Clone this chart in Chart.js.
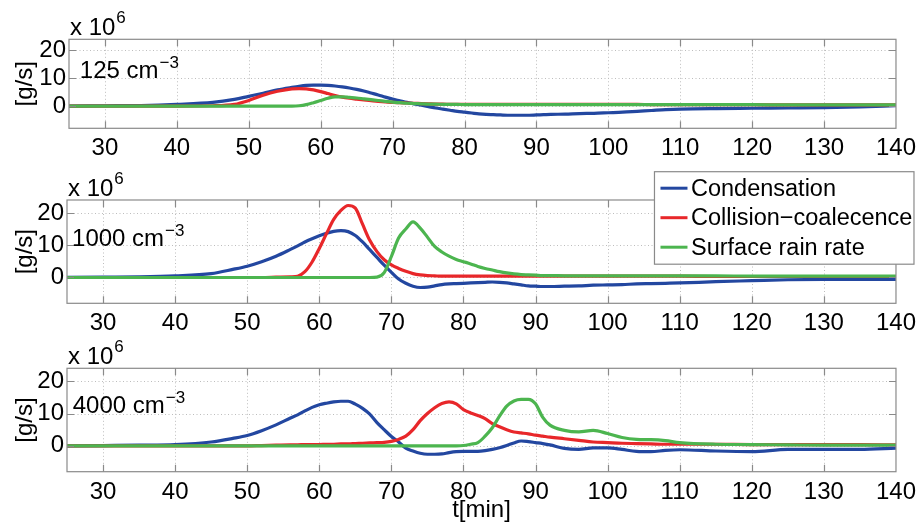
<!DOCTYPE html>
<html>
<head>
<meta charset="utf-8">
<script src="https://cdn.jsdelivr.net/npm/chart.js@4.4.0/dist/chart.umd.min.js"></script>
<style>
html, body { margin: 0; padding: 0; background: #fff; }
#wrap { position: relative; width: 922px; height: 522px; }
canvas { position: absolute; left: 0; }
</style>
</head>
<body>
<div id="wrap">
<canvas id="panel125" width="922" height="170" style="top:0px"></canvas>
<canvas id="panel1000" width="922" height="185" style="top:160px"></canvas>
<canvas id="panel4000" width="922" height="187" style="top:335px"></canvas>
</div>
<script>
var timeMinutes = [25, 30, 35, 40, 45, 48, 50, 52, 54, 56,
    57, 58, 59, 60, 61, 62, 63, 64, 65, 66, 67, 68, 69, 70, 71, 72, 73, 74, 75, 76,
    77, 78, 79, 80, 81, 82, 83, 84, 85, 86, 87, 88, 89, 90, 91, 92,
    94, 96, 98, 100, 102, 104, 106, 108, 110,
    115, 120, 125, 130, 135, 140];

var xTicks = [30, 40, 50, 60, 70, 80, 90, 100, 110, 120, 130, 140];
var yTicks = [0, 10, 20];
var seriesLabels = ['Condensation', 'Collision\u2212coalecence', 'Surface rain rate'];
var concentrationLabels = ['125', '1000', '4000'];

// values in 10^6 g/s
var condensation125 = [0, 0.1, 0.2, 0.6, 1.3, 2.4, 3.5, 4.6, 5.8, 6.7,
    7.1, 7.4, 7.5, 7.5, 7.4, 7.2, 6.9, 6.5, 6.0, 5.4, 4.7, 4.0, 3.2, 2.5, 1.9, 1.3, 0.8, 0.3, -0.2, -0.7,
    -1.1, -1.5, -1.9, -2.2, -2.5, -2.8, -3.0, -3.1, -3.2, -3.3, -3.3, -3.3, -3.3, -3.2, -3.1, -3.0,
    -2.9, -2.7, -2.6, -2.4, -2.2, -1.9, -1.6, -1.3, -1.1,
    -0.9, -0.8, -0.7, -0.6, -0.3, 0.1];
var collision125 = [0, 0, 0, 0, 0.1, 0.6, 2.0, 3.9, 5.3, 6.2,
    6.3, 6.2, 5.8, 5.2, 4.5, 3.8, 3.2, 2.8, 2.5, 2.2, 1.9, 1.7, 1.5, 1.3, 1.2, 1.1, 1.0, 0.9, 0.8, 0.7,
    0.7, 0.6, 0.6, 0.6, 0.6, 0.6, 0.6, 0.6, 0.6, 0.6, 0.6, 0.6, 0.6, 0.6, 0.6, 0.6,
    0.6, 0.6, 0.6, 0.6, 0.6, 0.6, 0.5, 0.5, 0.5,
    0.5, 0.5, 0.4, 0.4, 0.4, 0.4];
var rainRate125 = [0, 0, 0, 0, 0, 0, 0, 0, 0, 0,
    0.1, 0.5, 1.2, 2.0, 2.8, 3.3, 3.3, 3.1, 2.9, 2.6, 2.3, 2.0, 1.7, 1.4, 1.2, 1.0, 0.9, 0.8, 0.7, 0.7,
    0.6, 0.6, 0.6, 0.5, 0.5, 0.5, 0.5, 0.5, 0.5, 0.5, 0.5, 0.5, 0.5, 0.5, 0.5, 0.5,
    0.5, 0.5, 0.5, 0.5, 0.5, 0.5, 0.5, 0.5, 0.5,
    0.5, 0.5, 0.4, 0.4, 0.4, 0.4];

var condensation1000 = [0, 0.1, 0.2, 0.5, 1.2, 2.5, 3.5, 4.9, 6.6, 8.7,
    9.8, 11.0, 12.0, 12.9, 13.7, 14.3, 14.5, 14.2, 13.0, 11.0, 8.6, 6.2, 3.8, 1.6, -0.5, -1.8, -2.7, -3.1, -3.0, -2.6,
    -2.2, -2.0, -1.9, -1.8, -1.7, -1.6, -1.5, -1.4, -1.5, -1.7, -2.0, -2.3, -2.6, -2.7, -2.8, -2.8,
    -2.7, -2.6, -2.4, -2.3, -2.2, -2.0, -1.9, -1.8, -1.7,
    -1.3, -1.0, -0.7, -0.6, -0.6, -0.6];
var collision1000 = [0, 0, 0, 0, 0, 0, 0, 0, 0.1, 0.2,
    0.4, 1.8, 4.8, 9.0, 13.6, 18.0, 20.8, 22.3, 21.5, 16.5, 11.5, 8.0, 5.5, 3.9, 2.8, 1.9, 1.2, 0.8, 0.6, 0.5,
    0.4, 0.4, 0.4, 0.4, 0.4, 0.4, 0.4, 0.4, 0.4, 0.4, 0.4, 0.4, 0.4, 0.4, 0.4, 0.4,
    0.4, 0.4, 0.4, 0.4, 0.4, 0.4, 0.4, 0.4, 0.4,
    0.3, 0.3, 0.3, 0.3, 0.3, 0.3];
var rainRate1000 = [0, 0, 0, 0, 0, 0, 0, 0, 0, 0,
    0, 0, 0, 0, 0, 0, 0, 0, 0, 0, 0, 0.1, 1.5, 6.5, 12.2, 15.0, 17.2, 15.3, 12.5, 9.6,
    7.9, 6.6, 5.6, 4.9, 4.2, 3.4, 2.8, 2.3, 1.8, 1.4, 1.1, 0.9, 0.8, 0.7, 0.6, 0.6,
    0.5, 0.5, 0.5, 0.5, 0.5, 0.5, 0.5, 0.5, 0.5,
    0.5, 0.4, 0.4, 0.4, 0.4, 0.4];

var condensation4000 = [0, 0.1, 0.2, 0.4, 1.2, 2.3, 3.2, 4.7, 6.5, 8.6,
    9.6, 10.8, 11.9, 12.7, 13.2, 13.6, 13.8, 13.8, 12.9, 11.6, 9.8, 7.2, 5.0, 2.9, 1.2, -0.7, -1.6, -2.3, -2.6, -2.6,
    -2.5, -2.1, -1.8, -1.7, -1.7, -1.7, -1.5, -1.1, -0.6, 0.1, 0.9, 1.5, 1.3, 1.0, 0.7, 0.3,
    -0.8, -1.1, -0.6, -0.6, -1.1, -1.7, -1.8, -1.4, -1.2,
    -1.6, -1.8, -1.1, -1.1, -1.1, -0.7];
var collision4000 = [0, 0, 0, 0, 0, 0, 0, 0.1, 0.2, 0.3,
    0.3, 0.4, 0.4, 0.4, 0.5, 0.5, 0.6, 0.6, 0.7, 0.8, 0.9, 1.0, 1.1, 1.4, 2.0, 3.0, 5.0, 7.8, 10.0, 11.8,
    13.1, 13.6, 13.0, 11.2, 10.2, 9.4, 8.4, 6.9, 5.9, 5.0, 4.3, 4.0, 3.7, 3.3, 3.0, 2.7,
    2.2, 1.7, 1.2, 1.0, 0.8, 0.7, 0.6, 0.5, 0.5,
    0.5, 0.4, 0.4, 0.4, 0.4, 0.3];
var rainRate4000 = [0, 0, 0, 0, 0, 0, 0, 0, 0, 0,
    0, 0, 0, 0, 0, 0, 0, 0, 0, 0, 0, 0, 0, 0, 0, 0, 0, 0, 0, 0,
    0, 0, 0, 0.1, 0.5, 1.0, 3.0, 5.6, 9.2, 12.3, 13.9, 14.4, 14.4, 13.0, 8.8, 6.4,
    4.8, 4.3, 4.8, 3.8, 2.6, 2.0, 1.9, 1.6, 1.0,
    0.5, 0.4, 0.3, 0.2, 0.2, 0.2];

var FONT = '"Liberation Sans", Arial, Helvetica, sans-serif';
var COLORS = ['#2347a0', '#e8272a', '#4cb54f'];

var RainRates = {

    panels : [
        { id: 'panel125', series: [condensation125, collision125, rainRate125], text: concentrationLabels[0],
          top: 39.3, left: 69, right: 21.3, axisHeight: 41.7, textAt: [26.5, 10.2], legend: false, xTitle: false },
        { id: 'panel1000', series: [condensation1000, collision1000, rainRate1000], text: concentrationLabels[1],
          top: 40, left: 67, right: 24, axisHeight: 41.7, textAt: [25.7, 9.6], legend: true, xTitle: false },
        { id: 'panel4000', series: [condensation4000, collision4000, rainRate4000], text: concentrationLabels[2],
          top: 33.3, left: 67, right: 24, axisHeight: 50.3, textAt: [25.8, 10.1], legend: false, xTitle: true }
    ],

    init : function() {
        var self = this;
        this.panels.forEach(function(panel) {
            self.buildPanel(panel);
        });
    },

    // grid, box and inward ticks like the matlab axes
    axesPlugin : {
        id: 'matlabAxes',
        beforeDatasetsDraw: function(chart) {
            var ctx = chart.ctx;
            var area = chart.chartArea;
            var x = chart.scales.x;
            var y = chart.scales.y;
            ctx.save();
            ctx.strokeStyle = '#bdbdbd';
            ctx.lineWidth = 1;
            ctx.setLineDash([1, 2.5]);
            ctx.beginPath();
            xTicks.forEach(function(v) {
                var px = Math.round(x.getPixelForValue(v)) + 0.5;
                if (px >= area.right - 1) return;
                ctx.moveTo(px, area.top);
                ctx.lineTo(px, area.bottom);
            });
            yTicks.forEach(function(v) {
                var py = Math.round(y.getPixelForValue(v)) + 0.5;
                ctx.moveTo(area.left, py);
                ctx.lineTo(area.right, py);
            });
            ctx.stroke();
            ctx.restore();
        },
        afterDatasetsDraw: function(chart) {
            var ctx = chart.ctx;
            var area = chart.chartArea;
            var x = chart.scales.x;
            var y = chart.scales.y;
            var tick = 7;
            ctx.save();
            ctx.strokeStyle = '#8a8a8a';
            ctx.lineWidth = 1.2;
            ctx.strokeRect(area.left, area.top, area.right - area.left, area.bottom - area.top);
            ctx.beginPath();
            xTicks.forEach(function(v) {
                var px = Math.round(x.getPixelForValue(v)) + 0.5;
                if (px >= area.right - 1) return;
                ctx.moveTo(px, area.bottom);
                ctx.lineTo(px, area.bottom - tick);
                ctx.moveTo(px, area.top);
                ctx.lineTo(px, area.top + tick);
            });
            yTicks.forEach(function(v) {
                var py = Math.round(y.getPixelForValue(v)) + 0.5;
                ctx.moveTo(area.left, py);
                ctx.lineTo(area.left + tick, py);
                ctx.moveTo(area.right, py);
                ctx.lineTo(area.right - tick, py);
            });
            ctx.stroke();
            ctx.restore();
        },
        afterDraw: function(chart, args, opts) {
            var ctx = chart.ctx;
            var area = chart.chartArea;
            var panel = opts.panel;
            ctx.save();
            ctx.fillStyle = '#000';
            ctx.textBaseline = 'alphabetic';
            ctx.textAlign = 'left';

            // exponent above the axes
            ctx.font = '24px ' + FONT;
            ctx.fillText('x 10', area.left + 1, area.top - 4);
            var w = ctx.measureText('x 10').width;
            ctx.font = '17px ' + FONT;
            ctx.fillText('6', area.left + 2 + w, area.top - 16);

            // concentration label
            var tx = chart.scales.x.getPixelForValue(panel.textAt[0]);
            var ty = chart.scales.y.getPixelForValue(panel.textAt[1]);
            ctx.font = '24px ' + FONT;
            var txt = panel.text + ' cm';
            ctx.fillText(txt, tx, ty);
            var tw = ctx.measureText(txt).width;
            ctx.font = '17px ' + FONT;
            ctx.fillText('\u22123', tx + tw + 1, ty - 10);

            if (panel.legend) {
                RainRates.drawLegend(chart, ctx, area);
            }
            ctx.restore();
        }
    },

    drawLegend : function(chart, ctx, area) {
        var bx = area.right - 241.5;
        var by = area.top - 28.3;
        var bw = 259.5;
        var bh = 92.5;
        ctx.fillStyle = '#fff';
        ctx.fillRect(bx, by, bw, bh);
        ctx.strokeStyle = '#8a8a8a';
        ctx.lineWidth = 1.2;
        ctx.strokeRect(bx, by, bw, bh);
        ctx.font = '23.5px ' + FONT;
        ctx.textBaseline = 'middle';
        chart.data.datasets.forEach(function(ds, i) {
            var cy = by + 16.5 + i * 29.5;
            ctx.strokeStyle = ds.borderColor;
            ctx.lineWidth = 3;
            ctx.beginPath();
            ctx.moveTo(bx + 6, cy);
            ctx.lineTo(bx + 33, cy);
            ctx.stroke();
            ctx.fillStyle = '#000';
            ctx.fillText(ds.label, bx + 36.5, cy + 1);
        });
    },

    buildPanel : function(panel) {

        var datasets = panel.series.map(function(values, i) {
            return {
                label: seriesLabels[i],
                data: timeMinutes.map(function(t, k) {
                    return { x: t, y: values[k] };
                }),
                borderColor: COLORS[i],
                borderWidth: 3.2,
                pointRadius: 0,
                cubicInterpolationMode: 'monotone',
                order: 3 - i
            };
        });

        var config = {
            type: 'line',
            data: { datasets: datasets },
            plugins: [this.axesPlugin],
            options: {
                responsive: false,
                animation: false,
                devicePixelRatio: 1,
                layout: {
                    padding: { top: panel.top, right: panel.right, left: 0, bottom: 0 }
                },
                plugins: {
                    legend: { display: false },
                    tooltip: { enabled: false },
                    matlabAxes: { panel: panel }
                },
                scales: {
                    x: {
                        type: 'linear',
                        min: 25,
                        max: 140,
                        afterBuildTicks: function(scale) {
                            scale.ticks = xTicks.map(function(v) { return { value: v }; });
                        },
                        afterFit: function(scale) {
                            scale.height = panel.axisHeight;
                        },
                        grid: { display: false, drawTicks: false },
                        border: { display: false },
                        ticks: {
                            color: '#000',
                            font: { family: FONT, size: 24 },
                            padding: 6,
                            autoSkip: false,
                            maxRotation: 0
                        },
                        title: {
                            display: panel.xTitle,
                            text: 't[min]',
                            color: '#000',
                            font: { family: FONT, size: 24, lineHeight: 1 },
                            padding: 0
                        }
                    },
                    y: {
                        type: 'linear',
                        min: -8,
                        max: 24,
                        afterBuildTicks: function(scale) {
                            scale.ticks = yTicks.map(function(v) { return { value: v }; });
                        },
                        afterFit: function(scale) {
                            scale.width = panel.left;
                        },
                        grid: { display: false, drawTicks: false },
                        border: { display: false },
                        ticks: {
                            color: '#000',
                            font: { family: FONT, size: 24 },
                            padding: 3
                        },
                        title: {
                            display: true,
                            text: '[g/s]',
                            color: '#000',
                            font: { family: FONT, size: 24, lineHeight: 1 },
                            padding: { top: 13, bottom: 0 }
                        }
                    }
                }
            }
        };

        new Chart(document.getElementById(panel.id), config);
    }

};

RainRates.init();
</script>
</body>
</html>
